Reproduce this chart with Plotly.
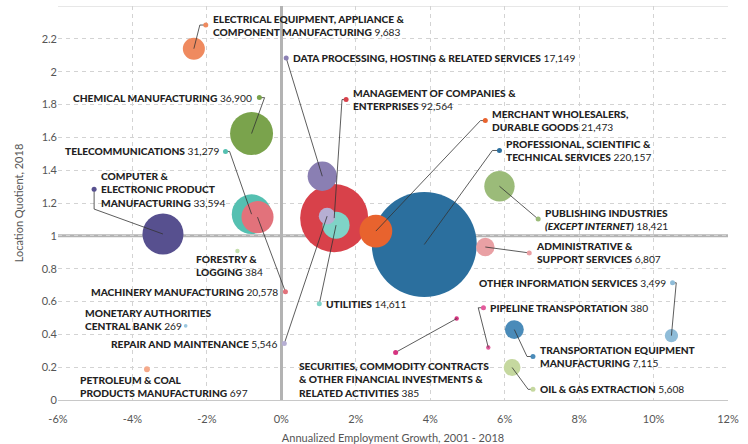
import plotly.graph_objects as go

# industry data
industries = [
    "ELECTRICAL EQUIPMENT, APPLIANCE &<br>COMPONENT MANUFACTURING",
    "DATA PROCESSING, HOSTING & RELATED SERVICES",
    "MANAGEMENT OF COMPANIES &<br>ENTERPRISES",
    "MERCHANT WHOLESALERS,<br>DURABLE GOODS",
    "PROFESSIONAL, SCIENTIFIC &<br>TECHNICAL SERVICES",
    "PUBLISHING INDUSTRIES<br><i>(EXCEPT INTERNET)</i>",
    "ADMINISTRATIVE &<br>SUPPORT SERVICES",
    "OTHER INFORMATION SERVICES",
    "PIPELINE TRANSPORTATION",
    "SECURITIES, COMMODITY CONTRACTS<br>& OTHER FINANCIAL INVESTMENTS &<br>RELATED ACTIVITIES",
    "TRANSPORTATION EQUIPMENT<br>MANUFACTURING",
    "OIL & GAS EXTRACTION",
    "UTILITIES",
    "REPAIR AND MAINTENANCE",
    "MACHINERY MANUFACTURING",
    "TELECOMMUNICATIONS",
    "CHEMICAL MANUFACTURING",
    "COMPUTER &<br>ELECTRONIC PRODUCT<br>MANUFACTURING",
    "FORESTRY &<br>LOGGING",
    "MONETARY AUTHORITIES<br>CENTRAL BANK",
    "PETROLEUM & COAL<br>PRODUCTS MANUFACTURING",
]
employment = [9683, 17149, 92564, 21473, 220157, 18421, 6807, 3499, 380, 385,
              7115, 5608, 14611, 5546, 20578, 31279, 36900, 33594, 384, 269, 697]
growth = [-2.35, 1.10, 1.42, 2.54, 3.84, 5.86, 5.48, 10.48, 5.56, 4.71,
          6.26, 6.20, 1.47, 1.23, -0.64, -0.80, -0.80, -3.18, -1.18, -2.57, -3.61]
location_quotient = [2.14, 1.363, 1.108, 1.029, 0.947, 1.302, 0.932, 0.392, 0.32, 0.496,
                     0.429, 0.198, 1.065, 1.12, 1.114, 1.132, 1.623, 1.011, 0.908, 0.452, 0.187]

x_ticks = [-6, -4, -2, 0, 2, 4, 6, 8, 10, 12]
x_tick_labels = ["-6%", "-4%", "-2%", "0%", "2%", "4%", "6%", "8%", "10%", "12%"]
y_ticks = [0, 0.2, 0.4, 0.6, 0.8, 1, 1.2, 1.4, 1.6, 1.8, 2, 2.2]
y_tick_labels = ["0", "0.2", "0.4", "0.6", "0.8", "1", "1.2", "1.4", "1.6", "1.8", "2", "2.2"]

colors = ["#ef8a5f", "#8a7fb3", "#d8414a", "#e8632e", "#2b6f9e", "#9bbb79", "#e9a0a4",
          "#8fbcd8", "#e35b9c", "#d63480", "#4a8bb9", "#c5d89f", "#7fd3c7", "#b6afd3",
          "#e2727b", "#55c0b1", "#7aa34c", "#57508f", "#c6dfae", "#9ac7df", "#f5a98a"]

# callouts: (label dot, elbow point, explicit text position, text anchor)
callouts = [
    ((-2.03, 2.284), (-2.19, 2.284), None, "left"),
    ((0.13, 2.084), None, None, "left"),
    ((1.74, 1.830), (1.63, 1.830), None, "left"),
    ((5.48, 1.702), (5.35, 1.702), None, "left"),
    ((5.86, 1.520), (5.67, 1.520), None, "left"),
    ((6.90, 1.102), None, None, "left"),
    ((6.66, 0.896), None, None, "left"),
    ((10.51, 0.714), (10.61, 0.714), None, "right"),
    ((5.43, 0.562), (5.29, 0.562), None, "left"),
    ((3.07, 0.290), None, (0.43, 0.125), "left"),
    ((6.76, 0.265), (6.60, 0.265), None, "left"),
    ((6.76, 0.065), (6.63, 0.065), None, "left"),
    ((1.02, 0.586), None, None, "left"),
    ((0.08, 0.344), None, None, "right"),
    ((0.11, 0.659), None, None, "right"),
    ((-1.50, 1.514), (-1.39, 1.514), None, "right"),
    ((-0.59, 1.842), (-0.45, 1.842), None, "right"),
    ((-5.03, 1.284), (-5.03, 1.163), None, "left"),
    (None, None, (-2.35, 0.817), "left"),
    (None, None, (-5.32, 0.488), "left"),
    (None, None, (-5.45, 0.083), "left"),
]

FONT = "Lato, 'Open Sans', sans-serif"

# biggest bubbles first so the small ones sit on top
order = sorted(range(len(employment)), key=lambda i: -employment[i])

fig = go.Figure()

fig.add_trace(go.Scatter(
    x=[growth[i] for i in order],
    y=[location_quotient[i] for i in order],
    mode="markers",
    marker=dict(
        size=[employment[i] for i in order],
        sizemode="area",
        sizeref=2.0 * max(employment) / (105 ** 2),
        color=[colors[i] for i in order],
        opacity=1,
        line=dict(width=0),
    ),
    hoverinfo="skip",
    showlegend=False,
))

# leader lines
lx, ly = [], []
dot_x, dot_y, dot_c = [], [], []
for i, (dot, elbow, tpos, anchor) in enumerate(callouts):
    if dot is None:
        continue
    lx.append(growth[i]); ly.append(location_quotient[i])
    if elbow is not None:
        lx.append(elbow[0]); ly.append(elbow[1])
    lx.append(dot[0]); ly.append(dot[1])
    lx.append(None); ly.append(None)
    dot_x.append(dot[0]); dot_y.append(dot[1]); dot_c.append(colors[i])

fig.add_trace(go.Scatter(x=lx, y=ly, mode="lines",
                         line=dict(color="#333333", width=0.8),
                         hoverinfo="skip", showlegend=False))
fig.add_trace(go.Scatter(x=dot_x, y=dot_y, mode="markers",
                         marker=dict(size=5, color=dot_c, line=dict(width=0)),
                         hoverinfo="skip", showlegend=False))

for i, (dot, elbow, tpos, anchor) in enumerate(callouts):
    text = '<span style="font-weight:900">%s</span> %s' % (industries[i], f"{employment[i]:,}")
    if tpos is None:
        ax, ay = dot
        shift = 5 if anchor == "left" else -5
    else:
        ax, ay = tpos
        shift = 0
    fig.add_annotation(
        x=ax, y=ay, xref="x", yref="y", text=text, showarrow=False,
        xanchor=anchor, yanchor="middle", align=anchor, xshift=shift,
        font=dict(family=FONT, size=10.2, color="#222222"),
    )

# reference line at LQ = 1 and top border
fig.add_shape(type="line", xref="x", yref="y", x0=-6, x1=12, y0=1, y1=1,
              line=dict(color="#b3b3b3", width=3), layer="below")
fig.add_shape(type="line", xref="x", yref="y", x0=-6, x1=12, y0=2.4, y1=2.4,
              line=dict(color="#d0d0d0", width=1), layer="below")

fig.update_layout(
    width=748, height=444,
    margin=dict(l=58, r=20, t=6, b=44),
    plot_bgcolor="white", paper_bgcolor="white",
    font=dict(family=FONT, size=11, color="#555555"),
    xaxis=dict(
        range=[-6, 12], tickvals=x_ticks, ticktext=x_tick_labels,
        showgrid=True, gridcolor="#d3d3d3", griddash="4px,4px", gridwidth=1,
        zeroline=True, zerolinecolor="#b3b3b3", zerolinewidth=3,
        showline=False, ticks="", automargin=False, ticklabelstandoff=11,
        title=dict(text="Annualized Employment Growth, 2001 - 2018",
                   font=dict(size=11, color="#555555"), standoff=11),
        tickfont=dict(size=11, color="#555555"),
    ),
    yaxis=dict(
        range=[0, 2.4], tickvals=y_ticks, ticktext=y_tick_labels,
        showgrid=True, gridcolor="#d3d3d3", griddash="4px,4px", gridwidth=1,
        zeroline=True, zerolinecolor="#c8c8c8", zerolinewidth=1,
        showline=False, ticks="", automargin=False,
        title=dict(text="Location Quotient, 2018",
                   font=dict(size=11, color="#555555"), standoff=15),
        tickfont=dict(size=11, color="#555555"),
    ),
)

# drop the page's default body margin so the figure sits at the window origin
fig.write_html("out.html", config={"displayModeBar": False},
               post_script="document.body.style.margin='0';")
